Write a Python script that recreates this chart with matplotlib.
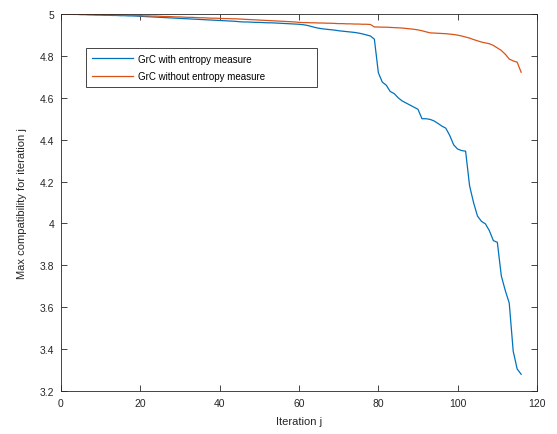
import matplotlib
matplotlib.use("Agg")
import matplotlib.pyplot as plt
import numpy as np

plt.rcParams['font.family'] = ['Liberation Sans', 'DejaVu Sans']

iterations = list(range(0, 117))

with_entropy = [
    5.000, 4.999, 4.999, 4.998, 4.998, 4.997, 4.997, 4.996, 4.996, 4.995,
    4.995, 4.994, 4.994, 4.993, 4.993, 4.992, 4.992, 4.991, 4.991, 4.990,
    4.989, 4.988, 4.987, 4.986, 4.985, 4.984, 4.983, 4.982, 4.981, 4.980,
    4.979, 4.978, 4.977, 4.976, 4.975, 4.974, 4.973, 4.972, 4.971, 4.970,
    4.969, 4.968, 4.967, 4.966, 4.965, 4.963, 4.962, 4.962, 4.961, 4.960,
    4.960, 4.959, 4.958, 4.958, 4.957, 4.956, 4.955, 4.954, 4.953, 4.952,
    4.951, 4.949, 4.946, 4.941, 4.936, 4.932, 4.929, 4.927, 4.925, 4.923,
    4.920, 4.918, 4.916, 4.914, 4.912, 4.909, 4.905, 4.900, 4.895, 4.880,
    4.720, 4.675, 4.660, 4.630, 4.620, 4.600, 4.585, 4.575, 4.565, 4.555,
    4.545, 4.500, 4.500, 4.497, 4.490, 4.478, 4.465, 4.455, 4.420, 4.375,
    4.355, 4.348, 4.345, 4.180, 4.100, 4.035, 4.010, 3.998, 3.965, 3.918,
    3.910, 3.750, 3.680, 3.620, 3.390, 3.305, 3.280,
]

without_entropy = [
    5.000, 5.000, 4.999, 4.999, 4.999, 4.998, 4.998, 4.998, 4.997, 4.997,
    4.997, 4.996, 4.996, 4.996, 4.995, 4.995, 4.994, 4.994, 4.993, 4.993,
    4.992, 4.991, 4.991, 4.990, 4.990, 4.989, 4.988, 4.988, 4.987, 4.986,
    4.986, 4.985, 4.984, 4.984, 4.983, 4.982, 4.982, 4.981, 4.980, 4.980,
    4.979, 4.978, 4.978, 4.977, 4.977, 4.976, 4.975, 4.974, 4.973, 4.972,
    4.971, 4.970, 4.969, 4.968, 4.967, 4.966, 4.965, 4.964, 4.963, 4.962,
    4.960, 4.959, 4.959, 4.958, 4.958, 4.957, 4.957, 4.956, 4.956, 4.955,
    4.954, 4.954, 4.953, 4.953, 4.952, 4.952, 4.951, 4.951, 4.950, 4.938,
    4.938, 4.937, 4.937, 4.936, 4.935, 4.934, 4.933, 4.931, 4.929, 4.927,
    4.924, 4.920, 4.915, 4.910, 4.909, 4.908, 4.907, 4.906, 4.904, 4.902,
    4.899, 4.895, 4.890, 4.885, 4.878, 4.872, 4.866, 4.862, 4.858, 4.850,
    4.838, 4.826, 4.808, 4.785, 4.776, 4.770, 4.722,
]

series_labels = ["GrC with entropy measure", "GrC without entropy measure"]
x_ticks = [0, 20, 40, 60, 80, 100, 120]
y_ticks = [3.2, 3.4, 3.6, 3.8, 4.0, 4.2, 4.4, 4.6, 4.8, 5.0]
y_tick_labels = ["3.2", "3.4", "3.6", "3.8", "4", "4.2", "4.4", "4.6", "4.8", "5"]

fig = plt.figure(figsize=(5.57, 4.35), dpi=100)
ax = fig.add_axes([61/557, 1-392/435, (537-61)/557, (392-15)/435])

ax.plot(iterations, with_entropy, color='#0072BD', lw=0.9, label=series_labels[0])
ax.plot(iterations, without_entropy, color='#D95319', lw=0.9, label=series_labels[1])

ax.set_xlim(0, 120)
ax.set_ylim(3.2, 5.0)
ax.set_xticks(x_ticks)
ax.set_yticks(y_ticks)
ax.set_yticklabels(y_tick_labels)

axcol = '#262626'
for s in ax.spines.values():
    s.set_color(axcol)
    s.set_linewidth(0.6)
ax.tick_params(direction='in', length=4, width=0.6, colors=axcol, labelsize=7.5,
               top=True, right=True, pad=5)
ax.set_xlabel("Iteration j", fontsize=8, color=axcol, labelpad=6)
ax.set_ylabel("Max compatibility for iteration j", fontsize=8, color=axcol, labelpad=9)

leg_x0 = (86 - 61) / 476
leg_y0 = 1 - (89 - 15) / 377
leg_w = (317 - 86) / 476
leg_h = (89 - 49) / 377
leg = ax.legend(loc='upper left', bbox_to_anchor=(leg_x0, leg_y0, leg_w, leg_h),
                mode='expand', fontsize=7, handlelength=4.2, handletextpad=0.5,
                labelspacing=0.75, borderaxespad=0, borderpad=0.6, frameon=True,
                fancybox=False, framealpha=1)
leg.get_frame().set_edgecolor(axcol)
leg.get_frame().set_linewidth(0.6)

fig.savefig("out.png", dpi=100)
